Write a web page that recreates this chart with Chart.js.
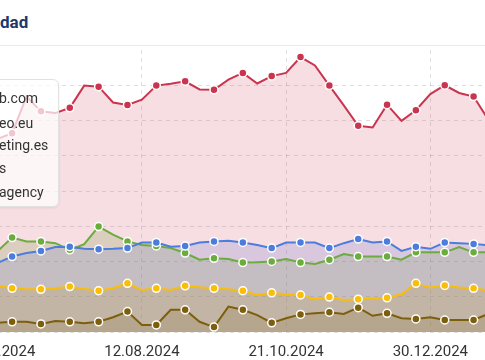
<!DOCTYPE html>
<html><head><meta charset="utf-8">
<script src="https://cdn.jsdelivr.net/npm/chart.js@4/dist/chart.umd.min.js"></script>
<style>
html,body{margin:0;padding:0;width:485px;height:360px;overflow:hidden;background:#fff;font-family:Roboto,sans-serif;}
#title{position:absolute;left:0;top:14px;font-weight:bold;font-size:17px;font-family:Roboto,sans-serif;color:#1b3a6b;line-height:16px;white-space:nowrap;}
#rule{position:absolute;left:0;width:485px;top:45px;height:1px;background:#ececec;}
#wrap{position:absolute;left:0;top:0;}
#legend{position:absolute;left:-12px;top:79px;width:71px;height:128px;box-sizing:border-box;background:rgba(255,255,255,0.72);border:1px solid #e2e2e2;border-radius:6px;box-shadow:0 1px 3px rgba(0,0,0,0.08);}
.li{position:absolute;left:10px;font-size:14px;font-family:Roboto,sans-serif;color:#333;white-space:nowrap;line-height:16px;}
</style></head>
<body>
<div id="title">dad</div>
<div id="rule"></div>
<div id="wrap"><canvas id="c"></canvas></div>
<div id="legend"></div>
<script>
const weekLabels = ["03.06.2024","10.06.2024","17.06.2024","24.06.2024","01.07.2024","08.07.2024","15.07.2024","22.07.2024","29.07.2024","05.08.2024","12.08.2024","19.08.2024","26.08.2024","02.09.2024","09.09.2024","16.09.2024","23.09.2024","30.09.2024","07.10.2024","14.10.2024","21.10.2024","28.10.2024","04.11.2024","11.11.2024","18.11.2024","25.11.2024","02.12.2024","09.12.2024","16.12.2024","23.12.2024","30.12.2024","06.01.2025","13.01.2025","20.01.2025","27.01.2025"];
const seriesNames = ["b.com","eo.eu","eting.es","s","agency"];
const redValues = [5.48,5.64,6.68,6.26,6.21,6.36,6.99,6.96,6.51,6.44,6.59,6.99,7.04,7.11,6.88,6.87,7.16,7.35,7.05,7.26,7.35,7.80,7.56,6.99,6.43,5.85,5.80,6.45,5.99,6.29,6.75,7.00,6.78,6.68,6.04];
const blueValues = [1.96,2.14,2.24,2.30,2.41,2.42,2.36,2.35,2.36,2.38,2.54,2.54,2.42,2.44,2.54,2.57,2.59,2.54,2.47,2.38,2.54,2.54,2.54,2.38,2.52,2.64,2.54,2.57,2.30,2.42,2.36,2.54,2.52,2.50,2.46];
const greenValues = [2.30,2.68,2.57,2.57,2.52,2.33,2.49,2.99,2.76,2.57,2.47,2.44,2.38,2.24,2.05,2.09,2.07,1.97,1.98,2.00,2.07,1.97,1.93,2.05,2.21,2.14,2.14,2.14,2.05,2.26,2.26,2.26,2.41,2.26,2.26];
const yellowValues = [1.32,1.24,1.21,1.21,1.24,1.29,1.22,1.17,1.24,1.38,1.19,1.24,1.19,1.31,1.27,1.24,1.21,1.17,1.05,1.11,1.07,1.05,0.93,0.99,0.91,0.93,0.94,0.97,1.07,1.38,1.26,1.32,1.26,1.24,1.18];
const brownValues = [0.26,0.29,0.29,0.23,0.31,0.29,0.25,0.29,0.42,0.58,0.20,0.20,0.63,0.63,0.29,0.14,0.72,0.63,0.48,0.26,0.39,0.50,0.53,0.56,0.51,0.69,0.46,0.53,0.39,0.37,0.42,0.34,0.34,0.34,0.51];
const yMin = 0, yMax = 8, yStep = 1;

const seriesValues = [redValues, blueValues, greenValues, yellowValues, brownValues];
const lineColors = ["rgb(203,52,79)","rgb(76,124,220)","rgb(108,172,62)","rgb(250,189,8)","rgb(124,94,12)"];
const fillColors = ["rgba(203,52,79,0.16)","rgba(76,124,220,0.2)","rgba(108,172,62,0.22)","rgba(250,189,8,0.22)","rgba(124,94,12,0.24)"];

const legend = document.getElementById('legend');
const legendTops = [9.7, 34.7, 57, 80.3, 103.7];
seriesNames.forEach((n,i)=>{
  const d = document.createElement('div');
  d.className='li'; d.textContent=n; d.style.top=legendTops[i]+'px';
  legend.appendChild(d);
});

function makeConfig(){
  return {
    type:'line',
    data:{
      labels: weekLabels,
      datasets: seriesNames.map((n,i)=>({
        label:n,
        data:seriesValues[i],
        borderColor:lineColors[i],
        backgroundColor:fillColors[i],
        fill:'origin',
        borderWidth:2,
        tension:0,
        pointRadius:(ctx)=> ctx.dataIndex % 2 === 1 ? 4 : 0,
        pointBackgroundColor:lineColors[i],
        pointBorderColor:'#fff',
        pointBorderWidth:1.5,
        clip:false
      }))
    },
    options:{
      responsive:false,
      animation:false,
      devicePixelRatio:1,
      layout:{padding:0},
      plugins:{legend:{display:false},tooltip:{enabled:false},filler:{drawTime:'beforeDatasetsDraw'}},
      scales:{
        x:{
          grid:{drawTicks:false,color:(ctx)=> (ctx.index % 10 === 0) ? 'rgba(0,0,0,0.13)' : 'transparent',lineWidth:1},
          border:{display:false,dash:[4,4]},
          ticks:{autoSkip:false,maxRotation:0,minRotation:0,padding:11,color:'#333',font:{family:'Roboto',size:15},
            callback:function(v,i){ return i % 10 === 0 ? this.getLabelForValue(v) : ''; }}
        },
        y:{
          min:yMin,max:yMax,
          ticks:{display:false,stepSize:yStep},
          grid:{drawTicks:false,color:(ctx)=> (ctx.tick && ctx.tick.value === yMax) ? 'transparent' : 'rgba(0,0,0,0.13)',lineWidth:1},
          border:{display:false,dash:[4,4]}
        }
      }
    }
  };
}

const canvas = document.getElementById('c');
canvas.width = 520; canvas.height = 320;
let chart = new Chart(canvas, makeConfig());
let a = chart.chartArea;
const W = Math.round(520 + (490.3 - (a.right - a.left)));
const H = Math.round(320 + (281.6 - (a.bottom - a.top)));
chart.destroy();
canvas.width = W; canvas.height = H;
canvas.style.width = W+'px'; canvas.style.height = H+'px';
chart = new Chart(canvas, makeConfig());
a = chart.chartArea;
const wrap = document.getElementById('wrap');
wrap.style.left = (-2.6 - a.left) + 'px';
wrap.style.top = (50.4 - a.top) + 'px';
</script>
</body></html>
